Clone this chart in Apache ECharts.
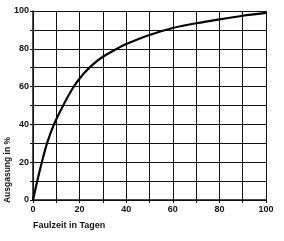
<!DOCTYPE html>
<html>
<head>
<meta charset="utf-8">
<script src="https://cdn.jsdelivr.net/npm/echarts@6/dist/echarts.min.js"></script>
<style>html,body{margin:0;padding:0;background:#fff}#c{width:284px;height:241px}</style>
</head>
<body>
<div id="c"></div>
<script>
var faulzeit = [0, 2, 4, 6, 9, 12.5, 17, 21.5, 26, 30, 36, 40, 50, 60, 70, 80, 90, 100];
var ausgasung = [0, 11, 21, 30, 40, 49, 59, 66.5, 72, 75.8, 80, 82.5, 87.3, 91, 93.5, 95.6, 97.5, 99];
var xTitle = 'Faulzeit in Tagen';
var yTitle = 'Ausgasung in %';

var pts = faulzeit.map(function (x, i) { return [x, ausgasung[i]]; });
var font = 'Liberation Sans, Arial, sans-serif';
var chart = echarts.init(document.getElementById('c'), null, {renderer: 'canvas'});
chart.setOption({
  animation: false,
  backgroundColor: '#fff',
  grid: {left: 33, right: 18, top: 11, bottom: 41},
  xAxis: {
    type: 'value', min: 0, max: 100, interval: 10,
    axisLine: {show: true, lineStyle: {color: '#111', width: 1.5}},
    axisTick: {show: true, length: 3, lineStyle: {color: '#111'}},
    splitLine: {show: true, lineStyle: {color: '#111', width: 1}},
    axisLabel: {color: '#111', fontSize: 9, fontFamily: font, fontWeight: 'bold', margin: 5,
      formatter: function (v) { return v % 20 === 0 ? String(v) : ''; }}
  },
  yAxis: {
    type: 'value', min: 0, max: 100, interval: 10,
    axisLine: {show: true, lineStyle: {color: '#111', width: 1.5}},
    axisTick: {show: true, length: 3, lineStyle: {color: '#111'}},
    splitLine: {show: true, lineStyle: {color: '#111', width: 1}},
    axisLabel: {color: '#111', fontSize: 9, fontFamily: font, fontWeight: 'bold', margin: 4,
      formatter: function (v) { return v % 20 === 0 ? String(v) : ''; }}
  },
  graphic: [
    {type: 'text', left: 33, top: 221, style: {text: xTitle, fill: '#111', font: 'bold 9px ' + font}},
    {type: 'text', x: 8, y: 170, rotation: Math.PI / 2,
      style: {text: yTitle, fill: '#111', font: 'bold 8.5px ' + font, textAlign: 'center', textVerticalAlign: 'middle'}}
  ],
  series: [{
    type: 'line', data: pts, smooth: 0.25, showSymbol: false,
    lineStyle: {color: '#000', width: 2.2}
  }]
});
</script>
</body>
</html>
